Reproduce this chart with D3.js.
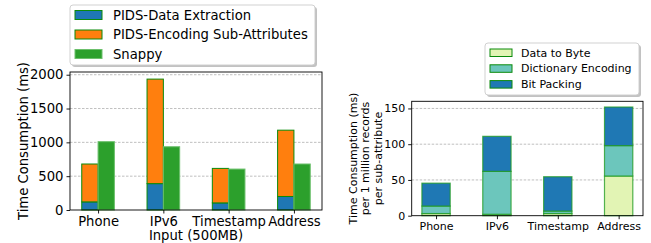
<!DOCTYPE html>
<html>
<head>
<meta charset="utf-8">
<script src="https://cdn.jsdelivr.net/npm/d3@7"></script>
<style>
body { margin: 0; background: #fff; }
text { font-family: "DejaVu Sans", sans-serif; fill: #000; }
</style>
</head>
<body>
<script>
// data
var inputs = ["Phone", "IPv6", "Timestamp", "Address"];
var extraction = [120, 390, 105, 200];
var encodingSub = [560, 1545, 510, 980];
var snappy = [1010, 935, 605, 680];
var leftTicks = [0, 500, 1000, 1500, 2000];

var dataToByte = [3, 2, 3, 55.5];
var dictEncoding = [10.5, 60, 3.5, 42.5];
var bitPacking = [32, 49, 48, 54];
var rightTicks = [0, 50, 100, 150];

var svg = d3.select("body").append("svg")
    .attr("width", 651)
    .attr("height", 243);

var edge = "#0a8a0a";

// ---------- left chart ----------
var x1 = d3.scaleLinear().domain([-0.43, 3.43]).range([70, 322]);
var y1 = d3.scaleLinear().domain([0, 2040]).range([210, 72]);
var bw1 = 0.25;

var g1 = svg.append("g");

g1.selectAll("line.grid")
    .data(leftTicks.slice(1))
    .enter().append("line")
    .attr("x1", 70).attr("x2", 322)
    .attr("y1", function (d) { return y1(d); })
    .attr("y2", function (d) { return y1(d); })
    .attr("stroke", "#b0b0b0")
    .attr("stroke-width", 0.8)
    .attr("stroke-dasharray", "2.5,1.5");

// stacked: extraction then encoding
g1.selectAll("rect.ext")
    .data(inputs)
    .enter().append("rect")
    .attr("x", function (d, i) { return x1(i - bw1); })
    .attr("width", x1(bw1) - x1(0))
    .attr("y", function (d, i) { return y1(extraction[i]); })
    .attr("height", function (d, i) { return y1(0) - y1(extraction[i]); })
    .attr("fill", "#1f77b4")
    .attr("stroke", edge).attr("stroke-width", 1);

g1.selectAll("rect.enc")
    .data(inputs)
    .enter().append("rect")
    .attr("x", function (d, i) { return x1(i - bw1); })
    .attr("width", x1(bw1) - x1(0))
    .attr("y", function (d, i) { return y1(extraction[i] + encodingSub[i]); })
    .attr("height", function (d, i) { return y1(extraction[i]) - y1(extraction[i] + encodingSub[i]); })
    .attr("fill", "#ff7f0e")
    .attr("stroke", edge).attr("stroke-width", 1);

g1.selectAll("rect.snap")
    .data(inputs)
    .enter().append("rect")
    .attr("x", function (d, i) { return x1(i); })
    .attr("width", x1(bw1) - x1(0))
    .attr("y", function (d, i) { return y1(snappy[i]); })
    .attr("height", function (d, i) { return y1(0) - y1(snappy[i]); })
    .attr("fill", "#2ca02c")
    .attr("stroke", "#6cc06c").attr("stroke-width", 1);

g1.append("rect")
    .attr("x", 70).attr("y", 72).attr("width", 252).attr("height", 138)
    .attr("fill", "none").attr("stroke", "#000").attr("stroke-width", 0.9);

var ay1 = g1.append("g")
    .attr("transform", "translate(70,0)")
    .call(d3.axisLeft(y1).tickValues(leftTicks).tickFormat(d3.format("d")).tickSize(3.5).tickPadding(3));
var ax1 = g1.append("g")
    .attr("transform", "translate(0,210)")
    .call(d3.axisBottom(x1).tickValues([0, 1, 2, 3]).tickFormat(function (d) { return inputs[d]; }).tickSize(3.5).tickPadding(3));
[ay1, ax1].forEach(function (a) {
    a.select(".domain").remove();
    a.selectAll("text").attr("font-size", 13.2).attr("font-family", "DejaVu Sans");
    a.selectAll("line").attr("stroke-width", 0.9);
});

g1.append("text")
    .attr("transform", "translate(28,141) rotate(-90)")
    .attr("text-anchor", "middle")
    .attr("font-size", 13.2)
    .text("Time Consumption (ms)");

g1.append("text")
    .attr("x", 196).attr("y", 240)
    .attr("text-anchor", "middle")
    .attr("font-size", 13.2)
    .text("Input (500MB)");

// left legend
var leg1 = [
    { name: "PIDS-Data Extraction", fill: "#1f77b4", edge: edge },
    { name: "PIDS-Encoding Sub-Attributes", fill: "#ff7f0e", edge: edge },
    { name: "Snappy", fill: "#2ca02c", edge: "#6cc06c" }
];
var l1 = svg.append("g");
l1.append("rect").attr("x", 72).attr("y", 7).attr("width", 245).attr("height", 60).attr("rx", 3)
    .attr("fill", "#999").attr("opacity", 0.6);
l1.append("rect").attr("x", 70).attr("y", 5).attr("width", 245).attr("height", 60).attr("rx", 3)
    .attr("fill", "#fff").attr("stroke", "#ccc").attr("stroke-width", 0.9);
l1.selectAll("rect.p")
    .data(leg1)
    .enter().append("rect")
    .attr("x", 75).attr("y", function (d, i) { return 10.5 + i * 19.5; })
    .attr("width", 27).attr("height", 9)
    .attr("fill", function (d) { return d.fill; })
    .attr("stroke", function (d) { return d.edge; });
l1.selectAll("text")
    .data(leg1)
    .enter().append("text")
    .attr("x", 113).attr("y", function (d, i) { return 19.5 + i * 19.5; })
    .attr("font-size", 13.2)
    .text(function (d) { return d.name; });

// ---------- right chart ----------
var x2 = d3.scaleLinear().domain([-0.4, 3.4]).range([411.7, 643]);
var y2 = d3.scaleLinear().domain([0, 160]).range([215.7, 101.3]);
var bw2 = 0.465;

var g2 = svg.append("g");

g2.selectAll("line.grid")
    .data(rightTicks.slice(1))
    .enter().append("line")
    .attr("x1", 411.7).attr("x2", 643)
    .attr("y1", function (d) { return y2(d); })
    .attr("y2", function (d) { return y2(d); })
    .attr("stroke", "#b0b0b0")
    .attr("stroke-width", 0.8)
    .attr("stroke-dasharray", "2.5,1.5");

var layers = [
    { vals: dataToByte, fill: "#e2f4b4" },
    { vals: dictEncoding, fill: "#6cc6bc" },
    { vals: bitPacking, fill: "#1f78b4" }
];
var base = inputs.map(function () { return 0; });
layers.forEach(function (layer) {
    var b = base.slice();
    g2.selectAll(null)
        .data(inputs)
        .enter().append("rect")
        .attr("x", function (d, i) { return x2(i - bw2 / 2); })
        .attr("width", x2(bw2) - x2(0))
        .attr("y", function (d, i) { return y2(b[i] + layer.vals[i]); })
        .attr("height", function (d, i) { return y2(b[i]) - y2(b[i] + layer.vals[i]); })
        .attr("fill", layer.fill)
        .attr("stroke", "#1d9a1d").attr("stroke-opacity", 0.75).attr("stroke-width", 1.2);
    base = base.map(function (v, i) { return v + layer.vals[i]; });
});

g2.append("rect")
    .attr("x", 411.7).attr("y", 101.3).attr("width", 231.3).attr("height", 114.4)
    .attr("fill", "none").attr("stroke", "#000").attr("stroke-width", 0.9);

var ay2 = g2.append("g")
    .attr("transform", "translate(411.7,0)")
    .call(d3.axisLeft(y2).tickValues(rightTicks).tickFormat(d3.format("d")).tickSize(3.5).tickPadding(3));
var ax2 = g2.append("g")
    .attr("transform", "translate(0,215.7)")
    .call(d3.axisBottom(x2).tickValues([0, 1, 2, 3]).tickFormat(function (d) { return inputs[d]; }).tickSize(3.5).tickPadding(3));
[ay2, ax2].forEach(function (a) {
    a.select(".domain").remove();
    a.selectAll("text").attr("font-size", 11).attr("font-family", "DejaVu Sans");
    a.selectAll("line").attr("stroke-width", 0.9);
});

var ylab2 = ["Time Consumption (ms)", "per 1 million records", "per sub-attribute"];
g2.selectAll("text.ylab")
    .data(ylab2)
    .enter().append("text")
    .attr("transform", function (d, i) { return "translate(" + (357 + i * 12.3) + ",158.5) rotate(-90)"; })
    .attr("text-anchor", "middle")
    .attr("font-size", 11)
    .text(function (d) { return d; });

// right legend
var leg2 = [
    { name: "Data to Byte", fill: "#e2f4b4" },
    { name: "Dictionary Encoding", fill: "#6cc6bc" },
    { name: "Bit Packing", fill: "#1f78b4" }
];
var l2 = svg.append("g");
l2.append("rect").attr("x", 487).attr("y", 45).attr("width", 154).attr("height", 52).attr("rx", 3)
    .attr("fill", "#999").attr("opacity", 0.6);
l2.append("rect").attr("x", 485).attr("y", 43).attr("width", 154).attr("height", 52).attr("rx", 3)
    .attr("fill", "#fff").attr("stroke", "#ccc").attr("stroke-width", 0.9);
l2.selectAll("rect.p")
    .data(leg2)
    .enter().append("rect")
    .attr("x", 490).attr("y", function (d, i) { return 49 + i * 15.8; })
    .attr("width", 22).attr("height", 7.5)
    .attr("fill", function (d) { return d.fill; })
    .attr("stroke", edge);
l2.selectAll("text")
    .data(leg2)
    .enter().append("text")
    .attr("x", 521).attr("y", function (d, i) { return 56.5 + i * 15.8; })
    .attr("font-size", 11)
    .text(function (d) { return d.name; });
</script>
</body>
</html>
